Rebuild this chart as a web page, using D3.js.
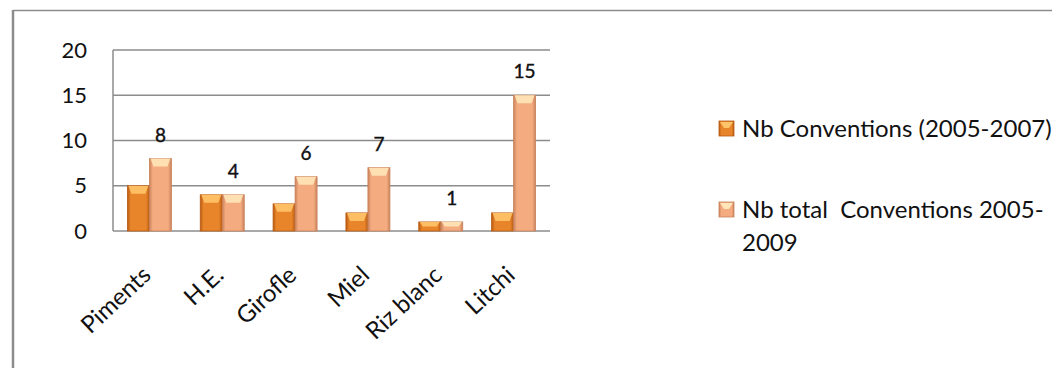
<!DOCTYPE html>
<html>
<head>
<meta charset="utf-8">
<script src="https://cdn.jsdelivr.net/npm/d3@7"></script>
<style>
  body { margin: 0; background: #fff; }
  text { font-family: Lato, "Open Sans", sans-serif; }
</style>
</head>
<body>
<script>
// Chart values
var categories = ["Piments", "H.E.", "Girofle", "Miel", "Riz blanc", "Litchi"];
var conventions0507 = [5, 4, 3, 2, 1, 2];
var totalConventions0509 = [8, 4, 6, 7, 1, 15];
var seriesNames = ["Nb Conventions (2005-2007)", "Nb total  Conventions 2005-\n2009"];
var yTicks = [0, 5, 10, 15, 20];

var width = 1052;
var height = 368;
var margin = { top: 50, left: 113, right: 502, bottom: 137 };

var svg = d3.select("body")
    .append("svg")
    .attr("width", width)
    .attr("height", height);

// gradients for the bevelled bars
var defs = svg.append("defs");
var palettes = [
    { id: "g0", edge: "#b85a12", mid: "#e8852a", top: "#ffc46a" },
    { id: "g1", edge: "#c9825b", mid: "#f4ab80", top: "#ffe6b8" }
];
palettes.forEach(function (p) {
    var g = defs.append("linearGradient").attr("id", p.id)
        .attr("x1", "0").attr("x2", "1").attr("y1", "0").attr("y2", "0");
    g.append("stop").attr("offset", "0%").attr("stop-color", p.edge);
    g.append("stop").attr("offset", "15%").attr("stop-color", p.mid);
    g.append("stop").attr("offset", "85%").attr("stop-color", p.mid);
    g.append("stop").attr("offset", "100%").attr("stop-color", p.edge);
});

// outer frame (top and left edges only)
svg.append("line").attr("x1", 13).attr("x2", width).attr("y1", 10.5).attr("y2", 10.5)
    .attr("stroke", "#8c8c8c").attr("stroke-width", 1.5);
svg.append("line").attr("x1", 13).attr("x2", 13).attr("y1", 10).attr("y2", height)
    .attr("stroke", "#8c8c8c").attr("stroke-width", 2.5);

var x = d3.scaleBand()
    .domain(categories)
    .range([margin.left, width - margin.right]);

var y = d3.scaleLinear()
    .domain([0, 20])
    .range([height - margin.bottom, margin.top]);

// gridlines
svg.append("g")
    .selectAll("line")
    .data(yTicks)
    .enter()
    .append("line")
    .attr("x1", margin.left)
    .attr("x2", width - margin.right)
    .attr("y1", function (d) { return y(d); })
    .attr("y2", function (d) { return y(d); })
    .attr("stroke", "#8c8c8c")
    .attr("stroke-width", 1.5);

// left edge of plot
svg.append("line")
    .attr("x1", margin.left).attr("x2", margin.left)
    .attr("y1", y(20)).attr("y2", y(0))
    .attr("stroke", "#8c8c8c").attr("stroke-width", 1.5);

// y axis labels
var yAxis = d3.axisLeft(y).tickValues(yTicks).tickSize(0).tickPadding(26);
var yg = svg.append("g")
    .attr("transform", "translate(" + margin.left + ",0)")
    .call(yAxis);
yg.select(".domain").remove();
yg.selectAll("text")
    .attr("font-size", 22)
    .attr("fill", "#111")
    .style("font-family", "Lato, sans-serif");

// x axis labels (rotated)
var xAxis = d3.axisBottom(x).tickSize(0).tickPadding(0);
var xg = svg.append("g")
    .attr("transform", "translate(0," + y(0) + ")")
    .call(xAxis);
xg.select(".domain").remove();
xg.selectAll("text")
    .attr("font-size", 24)
    .attr("fill", "#111")
    .style("font-family", "Lato, sans-serif")
    .attr("text-anchor", "end")
    .attr("dy", 0)
    .attr("transform", "translate(3,46) rotate(-43)");

var barW = 22;
var inner = d3.scaleBand().domain([0, 1]).range([0, barW * 2]);
var seriesData = [conventions0507, totalConventions0509];

seriesData.forEach(function (values, si) {
    var p = palettes[si];
    var grp = svg.append("g");
    var bars = grp.selectAll("g")
        .data(values)
        .enter()
        .append("g")
        .attr("transform", function (d, i) {
            return "translate(" + (x(categories[i]) + x.bandwidth() / 2 - barW + inner(si)) + ",0)";
        });

    bars.append("rect")
        .attr("x", 0)
        .attr("y", function (d) { return y(d); })
        .attr("width", barW)
        .attr("height", function (d) { return y(0) - y(d); })
        .attr("fill", "url(#" + p.id + ")")
        .attr("stroke", p.edge)
        .attr("stroke-width", 0.8);

    // lighter bevel at the top of each bar
    bars.append("path")
        .attr("d", function (d) {
            var t = y(d);
            var h = Math.min(8, (y(0) - t) / 2);
            return "M1," + t + " L" + (barW - 1) + "," + t + " L" + (barW - 4) + "," + (t + h) + " L4," + (t + h) + " Z";
        })
        .attr("fill", p.top)
        .attr("opacity", 0.9);
});

// value labels on the second series
svg.append("g")
    .selectAll("text")
    .data(totalConventions0509)
    .enter()
    .append("text")
    .attr("x", function (d, i) { return x(categories[i]) + x.bandwidth() / 2 + barW / 2; })
    .attr("y", function (d) { return y(d) - 17; })
    .attr("text-anchor", "middle")
    .attr("font-size", 19)
    .attr("fill", "#111")
    .attr("stroke", "#111")
    .attr("stroke-width", 0.4)
    .text(function (d) { return d; });

// legend
var legendY = [129, 210];
var legend = svg.append("g");
seriesNames.forEach(function (name, i) {
    var p = palettes[i];
    legend.append("rect")
        .attr("x", 719).attr("y", legendY[i] - 8)
        .attr("width", 15).attr("height", 15)
        .attr("fill", "url(#" + p.id + ")")
        .attr("stroke", p.edge).attr("stroke-width", 0.8);
    legend.append("path")
        .attr("d", "M720," + (legendY[i] - 7) + " L733," + (legendY[i] - 7) + " L729," + (legendY[i] - 1) + " L724," + (legendY[i] - 1) + " Z")
        .attr("fill", p.top);
    var t = legend.append("text")
        .attr("x", 742)
        .attr("y", legendY[i] + 8)
        .attr("font-size", 24)
        .attr("fill", "#111")
        .style("white-space", "pre");
    name.split("\n").forEach(function (line, li) {
        t.append("tspan")
            .attr("x", 742)
            .attr("dy", li === 0 ? 0 : 33)
            .text(line);
    });
});
</script>
</body>
</html>
